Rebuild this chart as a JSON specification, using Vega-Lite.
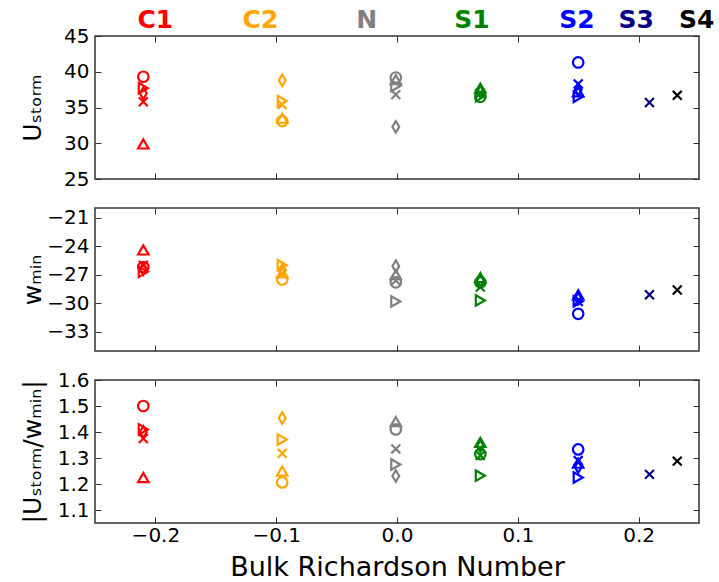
{
  "$schema": "https://vega.github.io/schema/vega-lite/v6.json",
  "background": "white",
  "padding": {"left": 19, "top": 7, "right": 5, "bottom": 5},
  "bounds": "flush",
  "spacing": 29,
  "config": {
    "font": "DejaVu Sans",
    "view": {"stroke": "#333", "strokeWidth": 1.5},
    "axis": {
      "labelFont": "DejaVu Sans", "labelFontSize": 20, "labelColor": "black",
      "tickColor": "#333", "tickSize": -6, "tickWidth": 1, "domain": false, "grid": false,
      "titleFont": "DejaVu Sans", "titleFontWeight": "normal", "titleFontSize": 25, "titleColor": "black",
      "labelPadding": 12
    },
    "axisLeft": {"titleX": -50, "titleBaseline": "bottom"}
  },
  "datasets": {
    "pts": [
      {"group": "C1", "sim": "o", "x": -0.21, "U": 39.3, "w": -26.2, "r": 1.50},
      {"group": "C1", "sim": "^", "x": -0.21, "U": 29.9, "w": -24.4, "r": 1.225},
      {"group": "C1", "sim": ">", "x": -0.21, "U": 37.7, "w": -26.7, "r": 1.41},
      {"group": "C1", "sim": "d", "x": -0.21, "U": 37.0, "w": -26.4, "r": 1.40},
      {"group": "C1", "sim": "x", "x": -0.21, "U": 35.8, "w": -26.0, "r": 1.375},
      {"group": "C2", "sim": "d", "x": -0.095, "U": 38.8, "w": -26.5, "r": 1.454},
      {"group": "C2", "sim": ">", "x": -0.095, "U": 35.9, "w": -26.0, "r": 1.371},
      {"group": "C2", "sim": "x", "x": -0.095, "U": 35.4, "w": -26.9, "r": 1.318},
      {"group": "C2", "sim": "^", "x": -0.095, "U": 33.5, "w": -26.8, "r": 1.25},
      {"group": "C2", "sim": "o", "x": -0.095, "U": 33.1, "w": -27.5, "r": 1.206},
      {"group": "N", "sim": "o", "x": -0.001, "U": 39.2, "w": -27.8, "r": 1.41},
      {"group": "N", "sim": "^", "x": -0.001, "U": 38.9, "w": -27.0, "r": 1.44},
      {"group": "N", "sim": ">", "x": -0.001, "U": 38.0, "w": -29.8, "r": 1.275},
      {"group": "N", "sim": "x", "x": -0.001, "U": 36.8, "w": -27.6, "r": 1.335},
      {"group": "N", "sim": "d", "x": -0.001, "U": 32.3, "w": -26.1, "r": 1.231},
      {"group": "S1", "sim": "^", "x": 0.069, "U": 37.7, "w": -27.3, "r": 1.36},
      {"group": "S1", "sim": "d", "x": 0.069, "U": 37.2, "w": -27.6, "r": 1.345},
      {"group": "S1", "sim": "x", "x": 0.069, "U": 37.0, "w": -28.3, "r": 1.31},
      {"group": "S1", "sim": "o", "x": 0.069, "U": 36.5, "w": -27.8, "r": 1.315},
      {"group": "S1", "sim": ">", "x": 0.069, "U": 36.6, "w": -29.7, "r": 1.232},
      {"group": "S2", "sim": "o", "x": 0.15, "U": 41.3, "w": -31.1, "r": 1.333},
      {"group": "S2", "sim": "x", "x": 0.15, "U": 38.3, "w": -29.8, "r": 1.29},
      {"group": "S2", "sim": "^", "x": 0.15, "U": 37.2, "w": -29.1, "r": 1.28},
      {"group": "S2", "sim": "d", "x": 0.15, "U": 37.5, "w": -29.5, "r": 1.265},
      {"group": "S2", "sim": ">", "x": 0.15, "U": 36.5, "w": -29.8, "r": 1.225},
      {"group": "S3", "sim": "x", "x": 0.209, "U": 35.7, "w": -29.1, "r": 1.237},
      {"group": "S4", "sim": "x", "x": 0.232, "U": 36.7, "w": -28.6, "r": 1.288}
    ],
    "labs": [
      {"group": "C1", "lx": -0.2},
      {"group": "C2", "lx": -0.113},
      {"group": "N", "lx": -0.025},
      {"group": "S1", "lx": 0.062},
      {"group": "S2", "lx": 0.149},
      {"group": "S3", "lx": 0.198},
      {"group": "S4", "lx": 0.248}
    ]
  },
  "vconcat": [
    {
      "width": 604, "height": 143,
      "layer": [
        {
          "data": {"name": "pts"},
          "mark": {"type": "point", "filled": false, "strokeWidth": 2.2, "size": 110, "opacity": 1},
          "encoding": {
            "x": {"field": "x", "type": "quantitative", "scale": {"domain": [-0.25, 0.25], "nice": false, "zero": false},
                  "axis": {"orient": "bottom", "values": [-0.2, -0.1, 0, 0.1, 0.2], "labels": false, "title": null}},
            "y": {"field": "U", "type": "quantitative", "scale": {"domain": [25, 45], "nice": false, "zero": false},
                  "axis": {"orient": "left", "values": [25, 30, 35, 40, 45], "title": "Uₛₜₒᵣₘ"}},
            "color": {"field": "group", "type": "nominal", "legend": null,
                      "scale": {"domain": ["C1", "C2", "N", "S1", "S2", "S3", "S4"], "range": ["#FF0000", "#FFA500", "#808080", "#008000", "#0000FF", "#000080", "#000000"]}},
            "shape": {"field": "sim", "type": "nominal", "legend": null,
                      "scale": {"domain": ["o", "^", ">", "d", "x"], "range": ["circle", "triangle-up", "triangle-right", "M0,-1.1L0.65,0L0,1.1L-0.65,0Z", "M-0.85,-0.85L0.85,0.85M0.85,-0.85L-0.85,0.85"]}}
          }
        },
        {
          "data": {"name": "pts"},
          "mark": {"type": "point", "opacity": 0},
          "encoding": {
            "x": {"field": "x", "type": "quantitative", "axis": {"orient": "top", "values": [-0.2, -0.1, 0, 0.1, 0.2], "labels": false, "title": null}},
            "y": {"field": "U", "type": "quantitative", "axis": {"orient": "right", "values": [25, 30, 35, 40, 45], "labels": false, "title": null}}
          }
        },
        {
          "data": {"name": "labs"},
          "mark": {"type": "text", "fontSize": 25, "fontWeight": "bold", "baseline": "alphabetic", "align": "center", "clip": false},
          "encoding": {
            "x": {"field": "lx", "type": "quantitative", "axis": null},
            "y": {"datum": 46.1, "type": "quantitative", "axis": null},
            "text": {"field": "group"},
            "color": {"field": "group", "type": "nominal", "legend": null}
          }
        }
      ],
      "resolve": {"axis": {"x": "independent", "y": "independent"}}
    },
    {
      "width": 604, "height": 143,
      "layer": [
        {
          "data": {"name": "pts"},
          "mark": {"type": "point", "filled": false, "strokeWidth": 2.2, "size": 110, "opacity": 1},
          "encoding": {
            "x": {"field": "x", "type": "quantitative", "scale": {"domain": [-0.25, 0.25], "nice": false, "zero": false},
                  "axis": {"orient": "bottom", "values": [-0.2, -0.1, 0, 0.1, 0.2], "labels": false, "title": null}},
            "y": {"field": "w", "type": "quantitative", "scale": {"domain": [-35, -20], "nice": false, "zero": false},
                  "axis": {"orient": "left", "values": [-33, -30, -27, -24, -21], "format": "d", "title": "wₘᵢₙ"}},
            "color": {"field": "group", "type": "nominal", "legend": null,
                      "scale": {"domain": ["C1", "C2", "N", "S1", "S2", "S3", "S4"], "range": ["#FF0000", "#FFA500", "#808080", "#008000", "#0000FF", "#000080", "#000000"]}},
            "shape": {"field": "sim", "type": "nominal", "legend": null,
                      "scale": {"domain": ["o", "^", ">", "d", "x"], "range": ["circle", "triangle-up", "triangle-right", "M0,-1.1L0.65,0L0,1.1L-0.65,0Z", "M-0.85,-0.85L0.85,0.85M0.85,-0.85L-0.85,0.85"]}}
          }
        },
        {
          "data": {"name": "pts"},
          "mark": {"type": "point", "opacity": 0},
          "encoding": {
            "x": {"field": "x", "type": "quantitative", "axis": {"orient": "top", "values": [-0.2, -0.1, 0, 0.1, 0.2], "labels": false, "title": null}},
            "y": {"field": "w", "type": "quantitative", "axis": {"orient": "right", "values": [-33, -30, -27, -24, -21], "labels": false, "title": null}}
          }
        }
      ],
      "resolve": {"axis": {"x": "independent", "y": "independent"}}
    },
    {
      "width": 604, "height": 143,
      "layer": [
        {
          "data": {"name": "pts"},
          "mark": {"type": "point", "filled": false, "strokeWidth": 2.2, "size": 110, "opacity": 1},
          "encoding": {
            "x": {"field": "x", "type": "quantitative", "scale": {"domain": [-0.25, 0.25], "nice": false, "zero": false},
                  "axis": {"orient": "bottom", "values": [-0.2, -0.1, 0, 0.1, 0.2], "format": ".1f", "title": "Bulk Richardson Number", "titlePadding": 9, "labelPadding": 8, "titleFontSize": 27}},
            "y": {"field": "r", "type": "quantitative", "scale": {"domain": [1.05, 1.6], "nice": false, "zero": false},
                  "axis": {"orient": "left", "values": [1.1, 1.2, 1.3, 1.4, 1.5, 1.6], "format": ".1f", "title": "|Uₛₜₒᵣₘ/wₘᵢₙ|"}},
            "color": {"field": "group", "type": "nominal", "legend": null,
                      "scale": {"domain": ["C1", "C2", "N", "S1", "S2", "S3", "S4"], "range": ["#FF0000", "#FFA500", "#808080", "#008000", "#0000FF", "#000080", "#000000"]}},
            "shape": {"field": "sim", "type": "nominal", "legend": null,
                      "scale": {"domain": ["o", "^", ">", "d", "x"], "range": ["circle", "triangle-up", "triangle-right", "M0,-1.1L0.65,0L0,1.1L-0.65,0Z", "M-0.85,-0.85L0.85,0.85M0.85,-0.85L-0.85,0.85"]}}
          }
        },
        {
          "data": {"name": "pts"},
          "mark": {"type": "point", "opacity": 0},
          "encoding": {
            "x": {"field": "x", "type": "quantitative", "axis": {"orient": "top", "values": [-0.2, -0.1, 0, 0.1, 0.2], "labels": false, "title": null}},
            "y": {"field": "r", "type": "quantitative", "axis": {"orient": "right", "values": [1.1, 1.2, 1.3, 1.4, 1.5, 1.6], "labels": false, "title": null}}
          }
        }
      ],
      "resolve": {"axis": {"x": "independent", "y": "independent"}}
    }
  ]
}
